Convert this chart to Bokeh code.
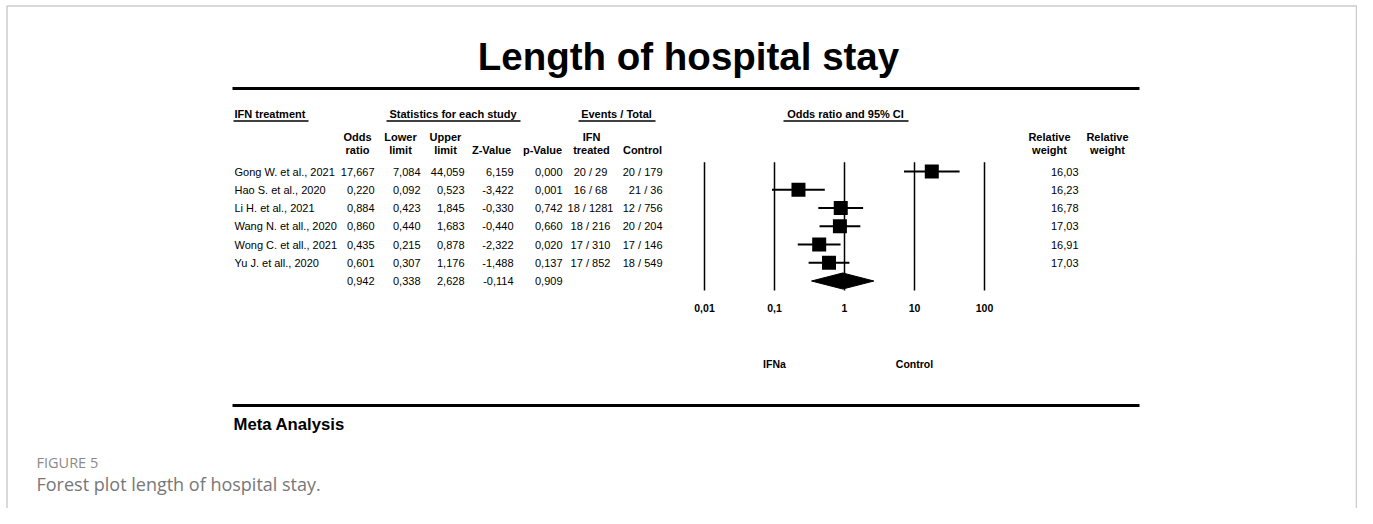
from bokeh.plotting import figure
from bokeh.models import Range1d, LogScale
from bokeh.core.properties import value
from bokeh.embed import file_html
from bokeh.resources import INLINE

# ---------------- data ----------------
title = "Length of hospital stay"
studies = ["Gong W. et al., 2021", "Hao S. et al., 2020", "Li H. et al., 2021",
           "Wang N. et all., 2020", "Wong C. et all., 2021", "Yu J. et all., 2020"]
odds_ratio = [17.667, 0.220, 0.884, 0.860, 0.435, 0.601]
lower_limit = [7.084, 0.092, 0.423, 0.440, 0.215, 0.307]
upper_limit = [44.059, 0.523, 1.845, 1.683, 0.878, 1.176]
z_value = [6.159, -3.422, -0.330, -0.440, -2.322, -1.488]
p_value = [0.000, 0.001, 0.742, 0.660, 0.020, 0.137]
ifn_events = [20, 16, 18, 18, 17, 17]
ifn_total = [29, 68, 1281, 216, 310, 852]
ctrl_events = [20, 21, 12, 20, 17, 18]
ctrl_total = [179, 36, 756, 204, 146, 549]
rel_weight = [16.03, 16.23, 16.78, 17.03, 16.91, 17.03]
summary = {"or": 0.942, "lower": 0.338, "upper": 2.628, "z": -0.114, "p": 0.909}
tick_values = [0.01, 0.1, 1, 10, 100]
tick_labels = ["0,01", "0,1", "1", "10", "100"]
favours = ["IFNa", "Control"]
favours_at = [0.1, 10]

# ---------------- figure ----------------
W, H = 1357, 508
p = figure(width=W, height=H, output_backend="svg", toolbar_location=None,
           x_range=Range1d(0, W), y_range=Range1d(H, 0),
           min_border=0, x_axis_type=None, y_axis_type=None)
p.grid.visible = False
p.outline_line_color = None
p.background_fill_color = "white"

# log odds-ratio scale
X001, PXDEC = 704.0, 70.0
p.extra_x_ranges = {"or": Range1d(10 ** (-2 + (0 - X001) / PXDEC),
                                  10 ** (-2 + (W - X001) / PXDEC))}
p.extra_x_scales = {"or": LogScale()}
# row scale
ROW0, STEP = 171.0, 18.25
p.extra_y_ranges = {"row": Range1d((H - ROW0) / STEP, (0 - ROW0) / STEP)}

FONT = value("Liberation Sans")
CAPFONT = value("Open Sans")


def txt(x, y, t, size="11px", align="left", bold=False, color="black",
        font=FONT, **kw):
    p.text(x=x, y=y, text=t, text_font=font, text_font_size=size,
           text_align=align, text_baseline="middle", text_color=color,
           text_font_style="bold" if bold else "normal", **kw)


def fmt(v, d=3):
    return f"{v:.{d}f}".replace(".", ",")


# frame border
p.line(x=[6.5, 6.5, 1356, 1356], y=[H, 5.5, 5.5, H],
       line_color="#cccccc", line_width=1.5)

# title and rules
txt([688], [56], [title], size="38.5px", align="center", bold=True)
p.segment(x0=[232, 232], y0=[88, 405], x1=[1139, 1139], y1=[88, 405],
          line_color="black", line_width=3)

# group headers
txt([234], [113], ["IFN treatment"], bold=True)
txt([452.5, 616, 845], [113] * 3,
    ["Statistics for each study", "Events / Total", "Odds ratio and 95% CI"],
    align="center", bold=True)
p.segment(x0=[233, 386, 578, 783], y0=[120.5] * 4,
          x1=[308, 520, 655, 908], y1=[120.5] * 4,
          line_color="black", line_width=1.3)

# column headers
txt([357, 400, 445, 591, 1049, 1107], [136] * 6,
    ["Odds", "Lower", "Upper", "IFN", "Relative", "Relative"],
    align="center", bold=True)
txt([357, 400, 445, 491, 542, 591, 642, 1049, 1107], [149] * 9,
    ["ratio", "limit", "limit", "Z-Value", "p-Value", "treated", "Control",
     "weight", "weight"], align="center", bold=True)

rows = list(range(len(studies)))
srow = len(studies)

txt([234] * len(rows), rows, studies, y_range_name="row")
cols = [(374, odds_ratio), (420, lower_limit), (464, upper_limit),
        (513, z_value), (562, p_value)]
for x, vals in cols:
    txt([x] * len(rows), rows, [fmt(v) for v in vals], align="right",
        y_range_name="row")
txt([590] * len(rows), rows,
    [f"{e} / {t}" for e, t in zip(ifn_events, ifn_total)], align="center",
    y_range_name="row")
txt([662] * len(rows), rows,
    [f"{e} / {t}" for e, t in zip(ctrl_events, ctrl_total)], align="right",
    y_range_name="row")
txt([1078] * len(rows), rows, [fmt(v, 2) for v in rel_weight], align="right",
    y_range_name="row")
# summary row
txt([374, 420, 464, 513, 562], [srow] * 5,
    [fmt(summary["or"]), fmt(summary["lower"]), fmt(summary["upper"]),
     fmt(summary["z"]), fmt(summary["p"])], align="right", y_range_name="row")

# forest plot
p.segment(x0=tick_values, x1=tick_values, y0=[-0.51] * 5, y1=[srow + 0.52] * 5,
          x_range_name="or", y_range_name="row", line_color="black",
          line_width=1.5)
p.segment(x0=lower_limit, x1=upper_limit, y0=rows, y1=rows,
          x_range_name="or", y_range_name="row", line_color="black",
          line_width=2.2)
p.scatter(x=odds_ratio, y=rows, marker="square", size=14, fill_color="black",
          line_color=None, x_range_name="or", y_range_name="row")
dh = 0.44
p.patch(x=[summary["lower"], summary["or"], summary["upper"], summary["or"]],
        y=[srow, srow - dh, srow, srow + dh], fill_color="black",
        line_color="black", x_range_name="or", y_range_name="row")

txt(tick_values, [307] * 5, tick_labels, size="10.5px", align="center",
    bold=True, x_range_name="or")
txt(favours_at, [363] * 2, favours, size="10.5px", align="center", bold=True,
    x_range_name="or")

# footer
txt([233], [424], ["Meta Analysis"], size="16.7px", bold=True)
txt([36], [462], ["FIGURE 5"], size="14.5px", color="#8a8a8a", font=CAPFONT)
txt([36], [483], ["Forest plot length of hospital stay."], size="18px",
    color="#777777", font=CAPFONT)

open("out.html", "w").write(file_html(p, INLINE))
